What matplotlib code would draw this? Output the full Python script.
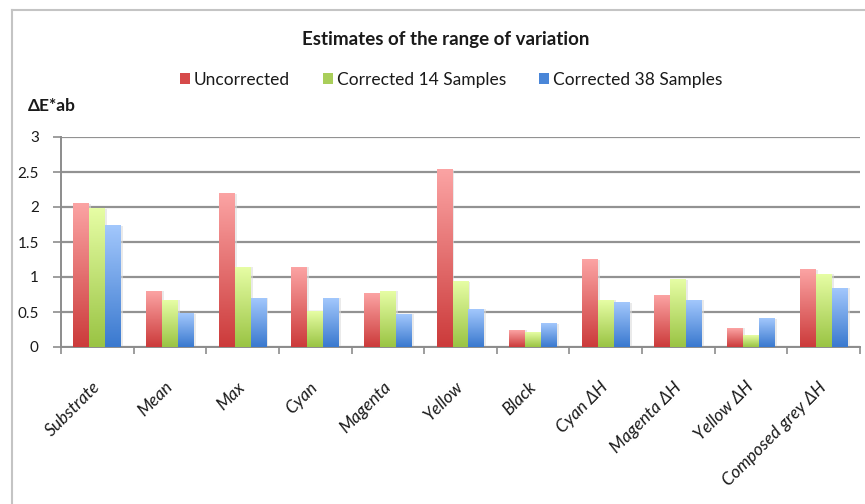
import numpy as np
import matplotlib
matplotlib.use("Agg")
import matplotlib.pyplot as plt
from matplotlib.colors import LinearSegmentedColormap
from matplotlib.lines import Line2D
from matplotlib.patches import Patch

plt.rcParams['font.family'] = ['Lato', 'DejaVu Sans']

categories = ["Substrate", "Mean", "Max", "Cyan", "Magenta", "Yellow", "Black",
              "Cyan ΔH", "Magenta ΔH", "Yellow ΔH", "Composed grey ΔH"]
series_names = ["Uncorrected", "Corrected 14 Samples", "Corrected 38 Samples"]
uncorrected = [2.05, 0.80, 2.19, 1.14, 0.77, 2.53, 0.24, 1.25, 0.74, 0.27, 1.10]
corrected_14 = [1.98, 0.67, 1.14, 0.51, 0.80, 0.93, 0.21, 0.67, 0.96, 0.17, 1.04]
corrected_38 = [1.73, 0.48, 0.70, 0.70, 0.47, 0.54, 0.33, 0.63, 0.67, 0.41, 0.84]
y_ticks = [0, 0.5, 1, 1.5, 2, 2.5, 3]
y_tick_labels = ["0", "0.5", "1", "1.5", "2", "2.5", "3"]

# (bottom colour, top colour, legend swatch)
palettes = [("#cc3b3b", "#fba3a3", "#d64a4a"),
            ("#9ac444", "#e6fda4", "#a9ce5a"),
            ("#3a79cf", "#a2c7fc", "#4a86d8")]

fig = plt.figure(figsize=(8.65, 5.04), dpi=100)
ax = fig.add_axes([61 / 865, 1 - 347 / 504, (860 - 61) / 865, (347 - 137) / 504])

x = np.arange(len(categories))
bw = 0.22
grad = np.linspace(0, 1, 64).reshape(-1, 1)
shadow_cmap = LinearSegmentedColormap.from_list("s", ["#dcdcdc", "#dcdcdc"])
for i, vals in enumerate([uncorrected, corrected_14, corrected_38]):
    lo, hi, _ = palettes[i]
    cmap = LinearSegmentedColormap.from_list(f"g{i}", [lo, hi])
    bars = ax.bar(x + (i - 1) * bw, vals, width=bw, color="none",
                  edgecolor="none", zorder=3)
    for b in bars:
        x0, w, h = b.get_x(), b.get_width(), b.get_height()
        # soft shadow to the right of each bar
        ax.imshow([[0.0]], extent=[x0 + w * 0.12, x0 + w * 1.12, 0, h - 0.01],
                  cmap=shadow_cmap, aspect="auto", origin="lower",
                  zorder=2.5, alpha=0.6)
        ax.imshow(grad, extent=[x0, x0 + w, 0, h], cmap=cmap, aspect="auto",
                  origin="lower", zorder=3, interpolation="bilinear")

ax.set_xlim(-0.5, len(categories) - 0.5)
ax.set_ylim(0, 3)

ax.set_yticks(y_ticks)
ax.set_yticklabels(y_tick_labels)
ax.yaxis.grid(True, color="#929292", linewidth=1.6, zorder=1)
ax.set_axisbelow(True)

ax.set_xticks(np.arange(len(categories) + 1) - 0.5)
ax.set_xticklabels([])
ax.set_xticks(x, minor=True)
ax.set_xticklabels(categories, minor=True, rotation=45, ha="right",
                   va="center", rotation_mode="anchor", fontsize=12.5,
                   style="italic", color="#1a1a1a")
ax.tick_params(axis="x", which="minor", length=0, pad=27)
ax.tick_params(axis="x", which="major", length=5, width=1.2, color="#8c8c8c",
               direction="out")
ax.tick_params(axis="y", length=6, width=1.2, color="#8c8c8c", labelsize=11,
               labelcolor="#1a1a1a", pad=10)

for s in ["top", "right"]:
    ax.spines[s].set_visible(False)
for s in ["left", "bottom"]:
    ax.spines[s].set_color("#8c8c8c")
    ax.spines[s].set_linewidth(1.4)

fig.text(446 / 865, 1 - 39 / 504, "Estimates of the range of variation",
         ha="center", va="center", fontsize=13.5, fontweight="bold",
         color="#1a1a1a")
fig.text(28 / 865, 1 - 106 / 504, "ΔE*ab", ha="left", va="center",
         fontsize=12.5, fontweight="bold", color="#1a1a1a")

handles = [Patch(facecolor=p[2], edgecolor="none") for p in palettes]
fig.legend(handles, series_names, loc="center", ncol=3,
           bbox_to_anchor=(451 / 865, 1 - 80 / 504), frameon=False,
           fontsize=12.5, handlelength=0.6, handleheight=0.6,
           handletextpad=0.2, columnspacing=1.9, labelcolor="#1a1a1a")

# outer chart frame
fig.add_artist(Line2D([12 / 865, 12 / 865], [0, 1 - 10 / 504],
                      transform=fig.transFigure, color="#c4c4c4", lw=1.5))
fig.add_artist(Line2D([12 / 865, 1], [1 - 10 / 504, 1 - 10 / 504],
                      transform=fig.transFigure, color="#c4c4c4", lw=1.5))

fig.savefig("out.png", dpi=100, facecolor="white")
